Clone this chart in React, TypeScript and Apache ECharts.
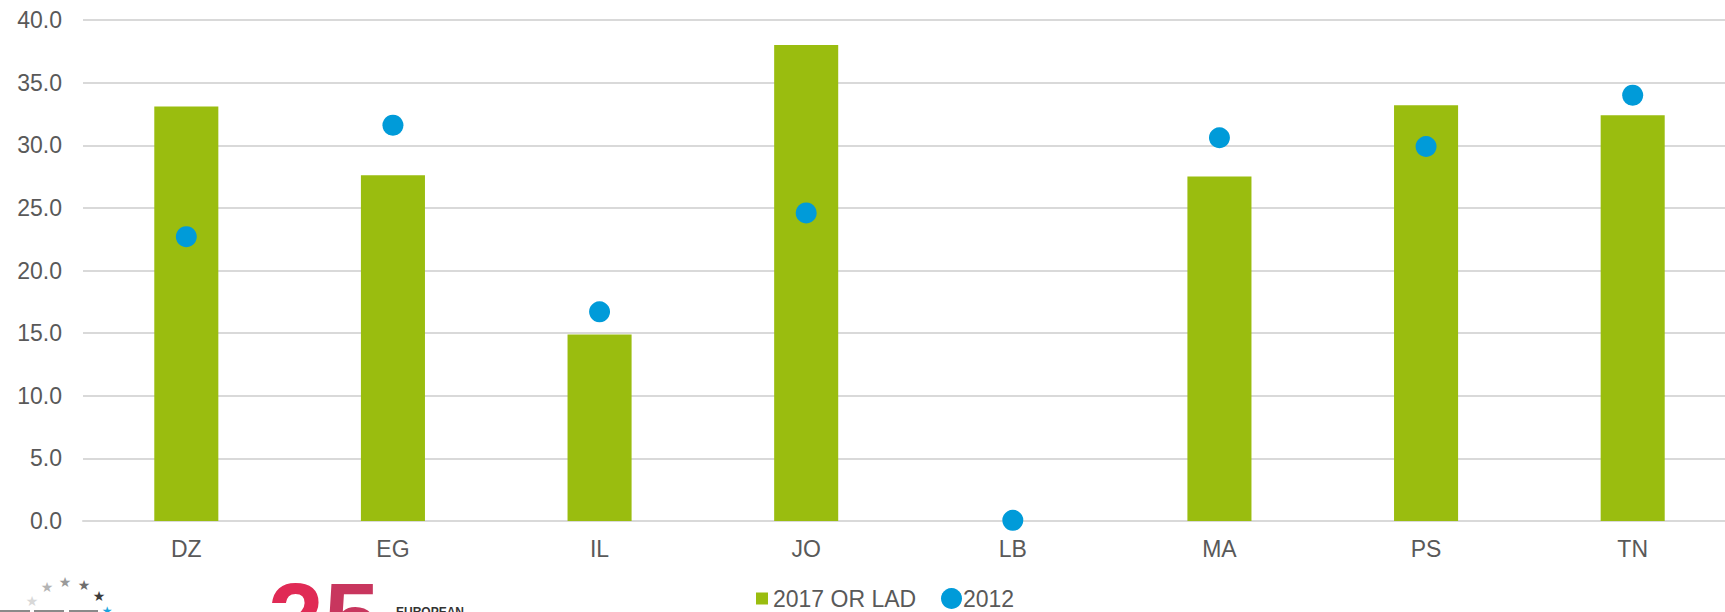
import React, { useEffect, useRef } from "react";
import * as echarts from "echarts";

const categories = ["DZ", "EG", "IL", "JO", "LB", "MA", "PS", "TN"];
const values2017 = [33.1, 27.6, 14.9, 38.0, null, 27.5, 33.2, 32.4];
const values2012 = [22.7, 31.6, 16.7, 24.6, 0.05, 30.6, 29.9, 34.0];
const yTicks = { min: 0, max: 40, interval: 5 };
const seriesNames = ["2017 OR LAD", "2012"];

const FONT = "'Liberation Sans', Arial, sans-serif";
const TEXT = "#595959";

export default function App() {
  const ref = useRef<HTMLDivElement>(null);
  useEffect(() => {
    document.body.style.margin = "0";
    const chart = echarts.init(ref.current!, null, { renderer: "svg" });
    const starColors = ["#d8d8d8", "#b4b4b4", "#9a9a9a", "#6e6e6e", "#3c3c3c"];
    const starPos = [
      [32, 601],
      [47, 587],
      [65, 582],
      [84, 585],
      [99, 596],
    ];
    const stars = starPos.map((p, i) => ({
      type: "text",
      x: p[0],
      y: p[1],
      style: {
        text: "★",
        fill: starColors[i],
        font: `14px 'DejaVu Sans', sans-serif`,
        align: "center",
        verticalAlign: "middle",
      },
    }));
    chart.setOption({
      animation: false,
      textStyle: { fontFamily: FONT },
      grid: { left: 83, width: 1653, top: 20, bottom: 91, outerBoundsMode: "none", containLabel: false },
      legend: [
        {
          data: [seriesNames[0]],
          left: 756,
          top: 587,
          padding: 0,
          itemWidth: 12,
          itemHeight: 12,
          icon: "rect",
          textStyle: { color: TEXT, fontSize: 23, fontFamily: FONT },
        },
        {
          data: [seriesNames[1]],
          left: 941,
          top: 587,
          padding: 0,
          itemWidth: 21,
          itemHeight: 21,
          icon: "circle",
          textStyle: { color: TEXT, fontSize: 23, fontFamily: FONT, padding: [0, 0, 0, -4] },
        },
      ],
      xAxis: {
        type: "category",
        data: categories,
        axisLine: { lineStyle: { color: "#d9d9d9", width: 2 } },
        axisTick: { show: false },
        axisLabel: { color: TEXT, fontSize: 23, margin: 16, fontFamily: FONT },
      },
      yAxis: {
        type: "value",
        min: yTicks.min,
        max: yTicks.max,
        interval: yTicks.interval,
        axisLine: { show: false },
        axisTick: { show: false },
        splitLine: { lineStyle: { color: "#d9d9d9", width: 2 } },
        axisLabel: {
          color: TEXT,
          fontSize: 23,
          margin: 21,
          fontFamily: FONT,
          formatter: (v: number) => v.toFixed(1),
        },
      },
      series: [
        {
          name: seriesNames[0],
          type: "bar",
          data: values2017,
          barWidth: "31%",
          itemStyle: { color: "#9abd0f" },
        },
        {
          name: seriesNames[1],
          type: "scatter",
          data: values2012,
          symbol: "circle",
          symbolSize: 21,
          itemStyle: { color: "#009bd9", opacity: 1 },
          z: 5,
        },
      ],
      graphic: [
        ...stars,
        { type: "line", shape: { x1: 0, y1: 611, x2: 30, y2: 611 }, style: { stroke: "#8a8a8a", lineWidth: 2 } },
        { type: "line", shape: { x1: 34, y1: 611, x2: 64, y2: 611 }, style: { stroke: "#8a8a8a", lineWidth: 2 } },
        { type: "line", shape: { x1: 69, y1: 611, x2: 98, y2: 611 }, style: { stroke: "#8a8a8a", lineWidth: 2 } },
        {
          type: "text",
          x: 107,
          y: 611,
          style: { text: "★", fill: "#1aa3dc", font: "12px 'DejaVu Sans', sans-serif", align: "center", verticalAlign: "middle" },
        },
        {
          type: "text",
          x: 268,
          y: 568,
          style: {
            text: "2",
            font: "bold 100px 'Liberation Sans', Arial, sans-serif",
            verticalAlign: "top",
            fill: "#e02a55",
          },
        },
        {
          type: "text",
          x: 324,
          y: 568,
          style: {
            text: "5",
            font: "bold 100px 'Liberation Sans', Arial, sans-serif",
            verticalAlign: "top",
            fill: "#c8365e",
          },
        },
        {
          type: "text",
          x: 396,
          y: 606,
          style: {
            text: "EUROPEAN",
            font: "bold 12px 'Liberation Sans', Arial, sans-serif",
            fill: "#333333",
            verticalAlign: "top",
          },
        },
      ],
    });
    return () => chart.dispose();
  }, []);
  return <div ref={ref} style={{ width: 1725, height: 612 }} />;
}
